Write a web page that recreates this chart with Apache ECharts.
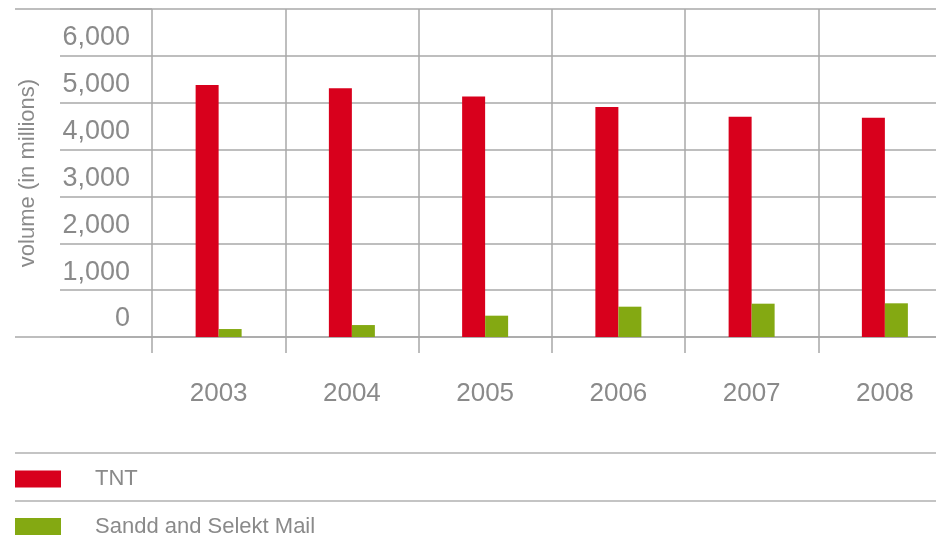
<!DOCTYPE html>
<html><head><meta charset="utf-8">
<script src="https://cdn.jsdelivr.net/npm/echarts@6/dist/echarts.min.js"></script>
<style>html,body{margin:0;padding:0;background:#fff}#c{width:936px;height:545px}</style>
</head><body><div id="c"></div>
<script>
const years = ['2003','2004','2005','2006','2007','2008'];
const tnt = [5380, 5310, 5130, 4910, 4700, 4680];
const sandd = [170, 255, 455, 647, 711, 719];
const seriesNames = ['TNT', 'Sandd and Selekt Mail'];
const yTicks = [0, 1000, 2000, 3000, 4000, 5000, 6000];
const yTickLabels = ['0', '1,000', '2,000', '3,000', '4,000', '5,000', '6,000'];
const yTitle = 'volume (in millions)';

const gridColor = '#a8a8a8';
const textColor = '#8a8a8a';
const font = 'Liberation Sans, Arial, sans-serif';
const splitStyle = {show: true, lineStyle: {color: gridColor, width: 1.5}};

const chart = echarts.init(document.getElementById('c'), null, {renderer: 'canvas'});
const legendCommon = {
  left: 15, padding: 0, itemWidth: 46, itemHeight: 17, icon: 'rect', selectedMode: false,
  textStyle: {color: textColor, fontSize: 22, fontFamily: font, padding: [0, 0, 0, 29]}
};
chart.setOption({
  animation: false,
  backgroundColor: '#fff',
  grid: [
    {left: 60, width: 92, top: 9, bottom: 208, outerBoundsMode: 'none'},
    {left: 152, width: 799.5, top: 9, bottom: 208, outerBoundsMode: 'none', containLabel: false},
    {left: 15, width: 137, top: 9, bottom: 208, outerBoundsMode: 'none'}
  ],
  xAxis: [
    {gridIndex: 0, type: 'value', show: false},
    {gridIndex: 1, type: 'category', data: years, boundaryGap: true,
     axisLine: {show: true, lineStyle: {color: gridColor, width: 1.5}},
     axisTick: {show: true, length: 16, lineStyle: {color: gridColor, width: 1.5}},
     splitLine: splitStyle,
     axisLabel: {color: textColor, fontSize: 26, fontFamily: font, margin: 44}},
    {gridIndex: 2, type: 'value', show: false}
  ],
  yAxis: [
    {gridIndex: 0, type: 'value', min: 0, max: 7000, interval: 1000,
     axisLine: {show: false}, axisTick: {show: false}, axisLabel: {show: false},
     splitLine: splitStyle},
    {gridIndex: 1, type: 'value', min: 0, max: 7000, interval: 1000,
     name: yTitle, nameLocation: 'middle', nameGap: 113,
     nameTextStyle: {color: textColor, fontSize: 22, fontFamily: font},
     axisLine: {show: false}, axisTick: {show: false},
     splitLine: splitStyle,
     axisLabel: {color: textColor, fontSize: 27, fontFamily: font, margin: 22,
       showMaxLabel: false, verticalAlign: 'bottom', lineHeight: 36,
       formatter: v => { const i = yTicks.indexOf(v); return i >= 0 ? yTickLabels[i] : ''; }}},
    {gridIndex: 2, type: 'value', min: 0, max: 7000, interval: 7000,
     axisLine: {show: false}, axisTick: {show: false}, axisLabel: {show: false},
     splitLine: splitStyle}
  ],
  legend: [
    Object.assign({top: 468, data: [seriesNames[0]]}, legendCommon),
    Object.assign({top: 515.5, data: [seriesNames[1]]}, legendCommon)
  ],
  graphic: [
    {type: 'line', shape: {x1: 15, y1: 453, x2: 936, y2: 453}, style: {stroke: '#c4c4c4', lineWidth: 2}},
    {type: 'line', shape: {x1: 15, y1: 501, x2: 936, y2: 501}, style: {stroke: '#c4c4c4', lineWidth: 2}}
  ],
  series: [
    {name: seriesNames[0], type: 'bar', xAxisIndex: 1, yAxisIndex: 1, data: tnt,
     barWidth: 23, barGap: '0%', itemStyle: {color: '#d8001c'}},
    {name: seriesNames[1], type: 'bar', xAxisIndex: 1, yAxisIndex: 1, data: sandd,
     barWidth: 23, barGap: '0%', itemStyle: {color: '#84a912'}}
  ]
});
</script></body></html>
